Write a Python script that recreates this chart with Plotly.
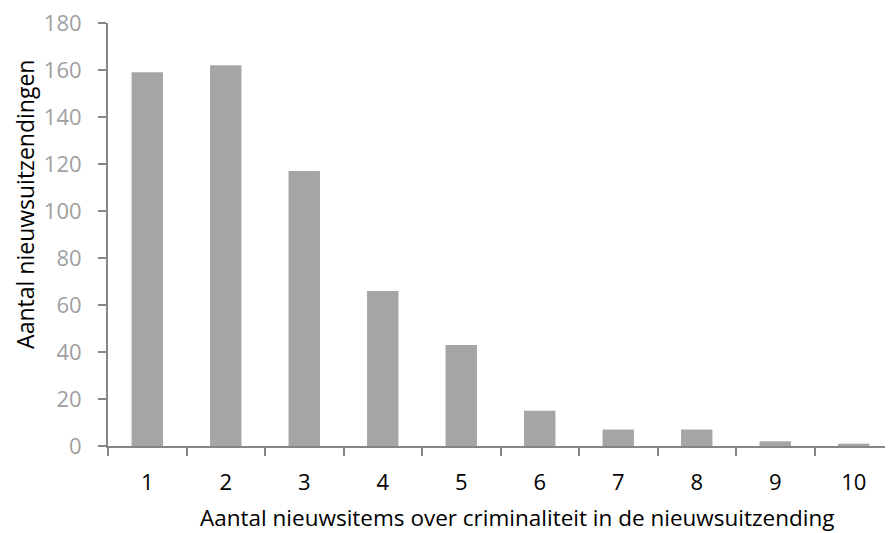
import plotly.graph_objects as go

categories = ["1", "2", "3", "4", "5", "6", "7", "8", "9", "10"]
counts = [159, 162, 117, 66, 43, 15, 7, 7, 2, 1]
y_ticks = [0, 20, 40, 60, 80, 100, 120, 140, 160, 180]

x_title = "Aantal nieuwsitems over criminaliteit in de nieuwsuitzending"
y_title = "Aantal nieuwsuitzendingen"

axis_color = "#868686"
font_family = "Open Sans, Liberation Sans, sans-serif"

# the page adds 8px of body margin, so the figure is sized to fit inside it
fig = go.Figure(
    data=[go.Bar(
        x=categories,
        y=counts,
        marker_color="#A5A5A5",
        marker_line_width=0,
        width=0.4,
    )],
    layout=go.Layout(
        width=885,
        height=525,
        plot_bgcolor="white",
        paper_bgcolor="white",
        showlegend=False,
        margin=dict(t=15, b=87, l=100, r=0),
        font=dict(family=font_family, color="black"),
        xaxis=dict(
            type="category",
            automargin=False,
            showline=True,
            linecolor=axis_color,
            linewidth=2,
            ticks="outside",
            tickson="boundaries",
            ticklen=8,
            tickwidth=2,
            tickcolor=axis_color,
            tickfont=dict(size=22, color="black"),
            ticklabelstandoff=16,
            showgrid=False,
        ),
        yaxis=dict(
            range=[0, 180],
            automargin=False,
            tickvals=y_ticks,
            showline=True,
            linecolor=axis_color,
            linewidth=2,
            ticks="outside",
            ticklen=8,
            tickwidth=2,
            tickcolor=axis_color,
            tickfont=dict(size=22, color="#A0A0A0"),
            ticklabelstandoff=12,
            ticklabeloverflow="allow",
            showgrid=False,
            zeroline=False,
        ),
        # axis titles as annotations, offset like the original
        annotations=[
            dict(
                text=x_title, xref="paper", yref="paper", x=0.5, y=0,
                xshift=16, yshift=-71, xanchor="center", yanchor="middle",
                showarrow=False, font=dict(size=22.5, color="black"),
            ),
            dict(
                text=y_title, xref="paper", yref="paper", x=0, y=0.57,
                xshift=-83, xanchor="center", yanchor="middle", textangle=-90,
                showarrow=False, font=dict(size=23, color="black"),
            ),
        ],
    ),
)

fig.write_html("out.html")
